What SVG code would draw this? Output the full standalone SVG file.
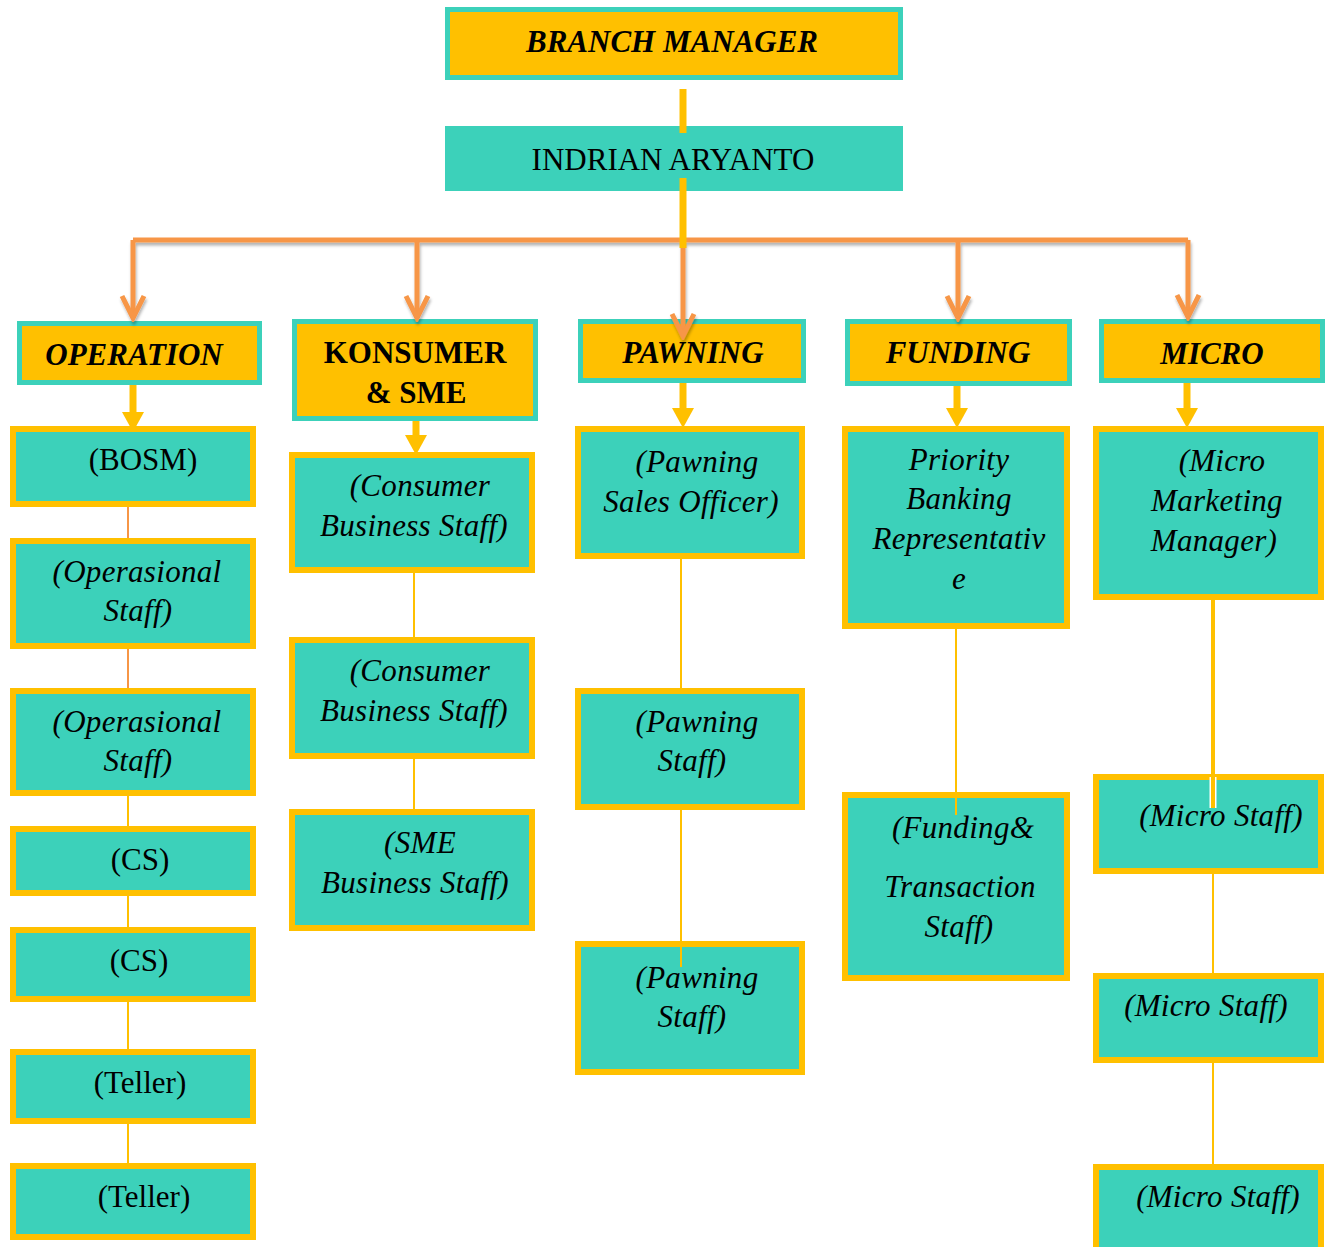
<svg xmlns="http://www.w3.org/2000/svg" width="1325" height="1247" viewBox="0 0 1325 1247">
<defs>
<style>
.head{fill:#FFC000;stroke:#3CD1BA;stroke-width:5}
.top2{fill:#3CD1BA;stroke:none}
.box{fill:#3CD1BA;stroke:#FFC000;stroke-width:6}
.t{font-family:"Liberation Serif","Times New Roman",serif;font-size:31px;text-anchor:middle;fill:#000}
.bi{font-weight:bold;font-style:italic}
.b{font-weight:bold}
.i{font-style:italic;letter-spacing:0.3px}
.org{fill:none;stroke:#F79646;stroke-width:5}
.yl{fill:none;stroke:#FFC000;stroke-width:7}
.thin{fill:none;stroke:#FFC000;stroke-width:2}
.thinO{fill:none;stroke:#F79646;stroke-width:2}
</style>
<marker id="chev" markerUnits="userSpaceOnUse" viewBox="-26 -14 30 28" markerWidth="30" markerHeight="28" refX="0" refY="0" orient="auto">
<path d="M-22,-11 L0,0 L-22,11" fill="none" stroke="#F79646" stroke-width="5"/>
</marker>
<marker id="tri" markerUnits="userSpaceOnUse" viewBox="0 -12 21 24" markerWidth="21" markerHeight="24" refX="0" refY="0" orient="auto">
<path d="M0,-11 L20,0 L0,11 Z" fill="#FFC000"/>
</marker>
<filter id="sh" x="-5%" y="-20%" width="110%" height="150%">
<feDropShadow dx="1" dy="3" stdDeviation="1.5" flood-color="#000" flood-opacity="0.3"/>
</filter>
</defs>

<g id="branch-manager">
<rect class="head" x="447.5" y="9.5" width="453" height="68"/>
<text class="t bi" x="672" y="52">BRANCH MANAGER</text>
</g>
<g id="indrian-aryanto">
<rect class="top2" x="445" y="126" width="458" height="65"/>
<text class="t" x="673" y="170">INDRIAN ARYANTO</text>
</g>

<g id="operation">
<rect class="head" x="19.5" y="323.5" width="240" height="59"/>
<text class="t bi" x="134" y="365">OPERATION</text>
</g>
<g id="konsumer-sme">
<rect class="head" x="294.5" y="321.5" width="241" height="97"/>
<text class="t b" x="415" y="363">KONSUMER</text>
<text class="t b" x="416" y="403">&amp; SME</text>
</g>
<g id="pawning">
<rect class="head" x="580.5" y="321.5" width="223" height="59"/>
<text class="t bi" x="693" y="363">PAWNING</text>
</g>
<g id="funding">
<rect class="head" x="847.5" y="321.5" width="222" height="62"/>
<text class="t bi" x="958" y="363">FUNDING</text>
</g>
<g id="micro">
<rect class="head" x="1101.5" y="321.5" width="221" height="59"/>
<text class="t bi" x="1212" y="364">MICRO</text>
</g>

<g id="bosm">
<rect class="box" x="13" y="429" width="240" height="75"/>
<text class="t" x="143" y="470">(BOSM)</text>
</g>
<g id="operasional-staff-1">
<rect class="box" x="13" y="541" width="240" height="105"/>
<text class="t i" x="137" y="582">(Operasional</text>
<text class="t i" x="138" y="621">Staff)</text>
</g>
<g id="operasional-staff-2">
<rect class="box" x="13" y="691" width="240" height="102"/>
<text class="t i" x="137" y="732">(Operasional</text>
<text class="t i" x="138" y="771">Staff)</text>
</g>
<g id="cs-1">
<rect class="box" x="13" y="829" width="240" height="64"/>
<text class="t" x="140" y="870">(CS)</text>
</g>
<g id="cs-2">
<rect class="box" x="13" y="930" width="240" height="69"/>
<text class="t" x="139" y="971">(CS)</text>
</g>
<g id="teller-1">
<rect class="box" x="13" y="1052" width="240" height="69"/>
<text class="t" x="140" y="1093">(Teller)</text>
</g>
<g id="teller-2">
<rect class="box" x="13" y="1166" width="240" height="71"/>
<text class="t" x="144" y="1207">(Teller)</text>
</g>

<g id="consumer-business-staff-1">
<rect class="box" x="292" y="455" width="240" height="115"/>
<text class="t i" x="420" y="496">(Consumer</text>
<text class="t i" x="414" y="536">Business Staff)</text>
</g>
<g id="consumer-business-staff-2">
<rect class="box" x="292" y="640" width="240" height="116"/>
<text class="t i" x="420" y="681">(Consumer</text>
<text class="t i" x="414" y="721">Business Staff)</text>
</g>
<g id="sme-business-staff">
<rect class="box" x="292" y="812" width="240" height="116"/>
<text class="t i" x="420" y="853">(SME</text>
<text class="t i" x="415" y="893">Business Staff)</text>
</g>

<g id="pawning-sales-officer">
<rect class="box" x="578" y="429" width="224" height="127"/>
<text class="t i" x="697" y="472">(Pawning</text>
<text class="t i" x="691" y="512">Sales Officer)</text>
</g>
<g id="pawning-staff-1">
<rect class="box" x="578" y="691" width="224" height="116"/>
<text class="t i" x="697" y="732">(Pawning</text>
<text class="t i" x="692" y="771">Staff)</text>
</g>
<g id="pawning-staff-2">
<rect class="box" x="578" y="944" width="224" height="128"/>
<text class="t i" x="697" y="988">(Pawning</text>
<text class="t i" x="692" y="1027">Staff)</text>
</g>

<g id="priority-banking">
<rect class="box" x="845" y="429" width="222" height="197"/>
<text class="t i" x="959" y="470">Priority</text>
<text class="t i" x="959" y="509">Banking</text>
<text class="t i" x="959" y="549">Representativ</text>
<text class="t i" x="959" y="589">e</text>
</g>
<g id="funding-transaction-staff">
<rect class="box" x="845" y="795" width="222" height="183"/>
<text class="t i" x="963" y="838">(Funding&amp;</text>
<text class="t i" x="960" y="897">Transaction</text>
<text class="t i" x="959" y="937">Staff)</text>
</g>

<g id="micro-marketing-manager">
<rect class="box" x="1096" y="429" width="225" height="168"/>
<text class="t i" x="1222" y="471">(Micro</text>
<text class="t i" x="1217" y="511">Marketing</text>
<text class="t i" x="1214" y="551">Manager)</text>
</g>
<g id="micro-staff-1">
<rect class="box" x="1096" y="777" width="225" height="94"/>
<text class="t i" x="1221" y="826">(Micro Staff)</text>
</g>
<g id="micro-staff-2">
<rect class="box" x="1096" y="976" width="225" height="84"/>
<text class="t i" x="1206" y="1016">(Micro Staff)</text>
</g>
<g id="micro-staff-3">
<rect class="box" x="1096" y="1167" width="225" height="100"/>
<text class="t i" x="1218" y="1207">(Micro Staff)</text>
</g>

<g id="connectors">
<path class="yl" d="M683,89 V133"/>
<g filter="url(#sh)">
<path class="org" d="M133,240 H1188"/>
<path class="org" d="M133,240 V318" marker-end="url(#chev)"/>
<path class="org" d="M417,240 V318" marker-end="url(#chev)"/>
<path class="org" d="M683,240 V336" marker-end="url(#chev)"/>
<path class="org" d="M958,240 V318" marker-end="url(#chev)"/>
<path class="org" d="M1188,240 V317" marker-end="url(#chev)"/>
</g>
<path class="yl" d="M683,178 V248"/>
<path class="yl" d="M133,385 V412" marker-end="url(#tri)"/>
<path class="yl" d="M416,421 V435" marker-end="url(#tri)"/>
<path class="yl" d="M683,383 V408" marker-end="url(#tri)"/>
<path class="yl" d="M957,386 V408" marker-end="url(#tri)"/>
<path class="yl" d="M1187,383 V408" marker-end="url(#tri)"/>
<path class="thinO" d="M128,507 V538"/>
<path class="thinO" d="M128,649 V688"/>
<path class="thin" d="M128,796 V826"/>
<path class="thin" d="M128,896 V927"/>
<path class="thin" d="M128,1002 V1049"/>
<path class="thin" d="M128,1124 V1163"/>
<path class="thin" d="M414,573 V637"/>
<path class="thin" d="M414,759 V809"/>
<path class="thin" d="M681,559 V688"/>
<path class="thin" d="M681,810 V967"/>
<path class="thin" d="M956,629 V815"/>
<path d="M1213,777 V808" fill="none" stroke="#FFFFFF" stroke-width="7"/>
<path d="M1213,600 V808" fill="none" stroke="#FFC000" stroke-width="4"/>
<path class="thin" d="M1213,874 V973"/>
<path class="thin" d="M1213,1063 V1164"/>
</g>
</svg>
